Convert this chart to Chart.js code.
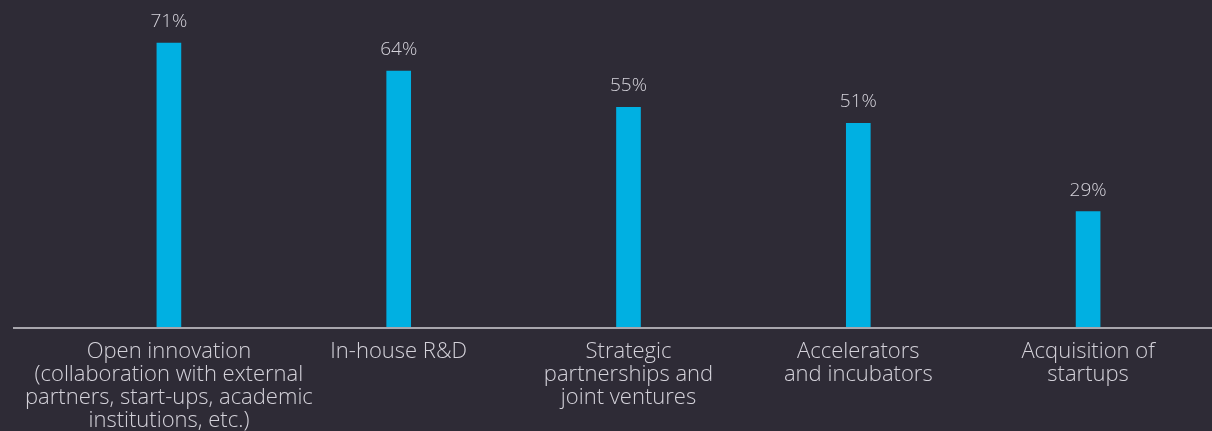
<!DOCTYPE html>
<html>
<head>
<meta charset="utf-8">
<script src="https://cdn.jsdelivr.net/npm/chart.js@4"></script>
<style>
  html, body { margin: 0; padding: 0; background: #2e2b36; }
  #wrap { width: 1212px; height: 431px; }
</style>
</head>
<body>
<div id="wrap"><canvas id="chart"></canvas></div>
<script>
// categories and values (%)
const categories = [
    ['Open innovation', '(collaboration with external', 'partners, start-ups, academic', 'institutions, etc.)'],
    ['In-house R&D'],
    ['Strategic', 'partnerships and', 'joint ventures'],
    ['Accelerators', 'and incubators'],
    ['Acquisition of', 'startups']
];
const shares = [71, 64, 55, 51, 29];

const textColor = '#d4d2da';
const fontFamily = '"Open Sans", sans-serif';

// value labels above the bars + long baseline
const barLabels = {
    id: 'barLabels',
    afterDatasetsDraw(chart) {
        const ctx = chart.ctx;
        const meta = chart.getDatasetMeta(0);
        ctx.save();
        ctx.fillStyle = textColor;
        ctx.font = '300 19px ' + fontFamily;
        ctx.textAlign = 'center';
        ctx.textBaseline = 'bottom';
        meta.data.forEach((bar, i) => {
            ctx.fillText(shares[i] + '%', bar.x, bar.y - 12);
        });
        const y0 = chart.scales.y.getPixelForValue(0);
        ctx.strokeStyle = '#a8a6ad';
        ctx.lineWidth = 2;
        ctx.beginPath();
        ctx.moveTo(13, y0);
        ctx.lineTo(chart.width, y0);
        ctx.stroke();
        ctx.restore();
    }
};

new Chart(document.getElementById('chart').getContext('2d'), {
    type: 'bar',
    data: {
        labels: categories,
        datasets: [{
            data: shares,
            backgroundColor: '#00b0e2',
            barThickness: 24
        }]
    },
    options: {
        responsive: true,
        maintainAspectRatio: false,
        animation: false,
        layout: { padding: { left: 54, right: 9, top: 7, bottom: 0 } },
        plugins: { legend: { display: false }, tooltip: { enabled: false } },
        scales: {
            x: {
                grid: { display: false, drawTicks: false },
                border: { display: false },
                ticks: {
                    color: textColor,
                    padding: 12,
                    maxRotation: 0,
                    autoSkip: false,
                    font: { family: fontFamily, size: 22, weight: '300', lineHeight: '23px' }
                },
                afterFit(scale) { scale.height = 103; }
            },
            y: {
                display: false,
                min: 0,
                max: 80
            }
        }
    },
    plugins: [barLabels]
});
</script>
</body>
</html>
